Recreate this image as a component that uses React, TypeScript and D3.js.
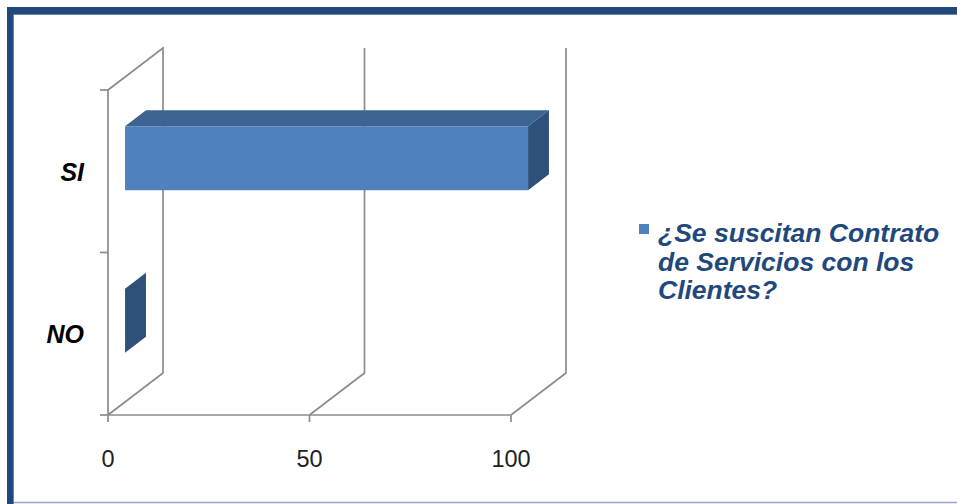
import React from "react";
import * as d3 from "d3";

const categories = ["SI", "NO"];
const values = [100, 0];
const xTicks = [0, 50, 100];
const seriesName = ["¿Se suscitan Contrato", "de Servicios con los", "Clientes?"];

const W = 957;
const H = 504;
const DX = 55;
const DY = -42;
const D0 = 0.31;
const D1 = 0.69;

export default function App() {
  const x = d3.scaleLinear().domain([0, 100]).range([108, 511]);
  const y = d3.scaleBand<string>().domain(categories).range([90, 415]);
  const bw = y.bandwidth();
  const barH = bw * 0.394;
  const grid = "#8c8c8c";
  const x0 = x(0);
  const yTop = 90;
  const yBot = 415;

  const fdx = DX * D0, fdy = DY * D0;
  const bdx = DX * D1, bdy = DY * D1;

  const pts = (arr: [number, number][]) => arr.map((p) => p.join(",")).join(" ");

  return (
    <div style={{ position: "fixed", left: 0, top: 0 }}>
      <svg width={W} height={H} style={{ display: "block", background: "#fff" }}>
        {/* frame */}
        <rect x={0} y={0} width={W} height={H} fill="#fff" />
        <rect x={7} y={7} width={W - 7} height={7} fill="#1F497D" />
        <rect x={7} y={7} width={6.5} height={H - 7} fill="#1F497D" />
        <line x1={13} y1={14.5} x2={W} y2={14.5} stroke="#6a86ae" strokeWidth={1} />
        <line x1={13.5} y1={14} x2={13.5} y2={H} stroke="#6a86ae" strokeWidth={1} />
        <line x1={14} y1={502.5} x2={W} y2={502.5} stroke="#9aa8c4" strokeWidth={1.5} />

        {/* walls & gridlines */}
        <g stroke={grid} strokeWidth={1.7} fill="none">
          <polyline points={pts([[x0, yBot], [x0, yTop], [x0 + DX, yTop + DY], [x0 + DX, yBot + DY], [x0, yBot]])} />
          {xTicks.filter((t) => t > 0).map((t) => (
            <polyline key={t} points={pts([[x(t), yBot], [x(t) + DX, yBot + DY], [x(t) + DX, yTop + DY]])} />
          ))}
          <line x1={x0} y1={yBot} x2={x(100)} y2={yBot} />
          {xTicks.map((t) => (
            <line key={"t" + t} x1={x(t)} y1={yBot} x2={x(t)} y2={yBot + 7} />
          ))}
          {[yTop, ...categories.map((c) => (y(c) as number) + bw)].map((v, i) => (
            <line key={"c" + i} x1={x0 - 8} y1={v} x2={x0} y2={v} />
          ))}
        </g>

        {/* bars */}
        {categories.map((c, i) => {
          const cy = (y(c) as number) + bw / 2;
          const t = cy - barH / 2 + fdy;
          const b = cy + barH / 2 + fdy;
          const l = x0 + fdx;
          const r = x(values[i]) + fdx;
          const ddx = bdx - fdx, ddy = bdy - fdy;
          return (
            <g key={c}>
              {values[i] > 0 && (
                <polygon points={pts([[l, t], [l + ddx, t + ddy], [r + ddx, t + ddy], [r, t]])} fill="#3D6390" />
              )}
              <polygon points={pts([[r, t], [r + ddx, t + ddy], [r + ddx, b + ddy], [r, b]])} fill="#2F5078" />
              {values[i] > 0 && <rect x={l} y={t} width={r - l} height={b - t} fill="#4F81BD" />}
            </g>
          );
        })}

        {/* category labels */}
        {categories.map((c) => (
          <text key={c} x={84} y={(y(c) as number) + bw / 2 + 9.5} textAnchor="end"
            fontFamily="Liberation Sans, Arial, sans-serif" fontWeight="bold" fontStyle="italic" fontSize={25} fill="#000">
            {c}
          </text>
        ))}

        {/* x tick labels */}
        {xTicks.map((t) => (
          <text key={t} x={x(t)} y={467} textAnchor="middle"
            fontFamily="Liberation Sans, Arial, sans-serif" fontSize={23.5} fill="#222">
            {t}
          </text>
        ))}

        {/* legend */}
        <rect x={639} y={224} width={10} height={10} fill="#4F81BD" />
        {seriesName.map((s, i) => (
          <text key={i} x={658} y={242 + i * 28.5}
            fontFamily="Liberation Sans, Arial, sans-serif" fontWeight="bold" fontStyle="italic" fontSize={26.5} fill="#1F497D">
            {s}
          </text>
        ))}
      </svg>
    </div>
  );
}
